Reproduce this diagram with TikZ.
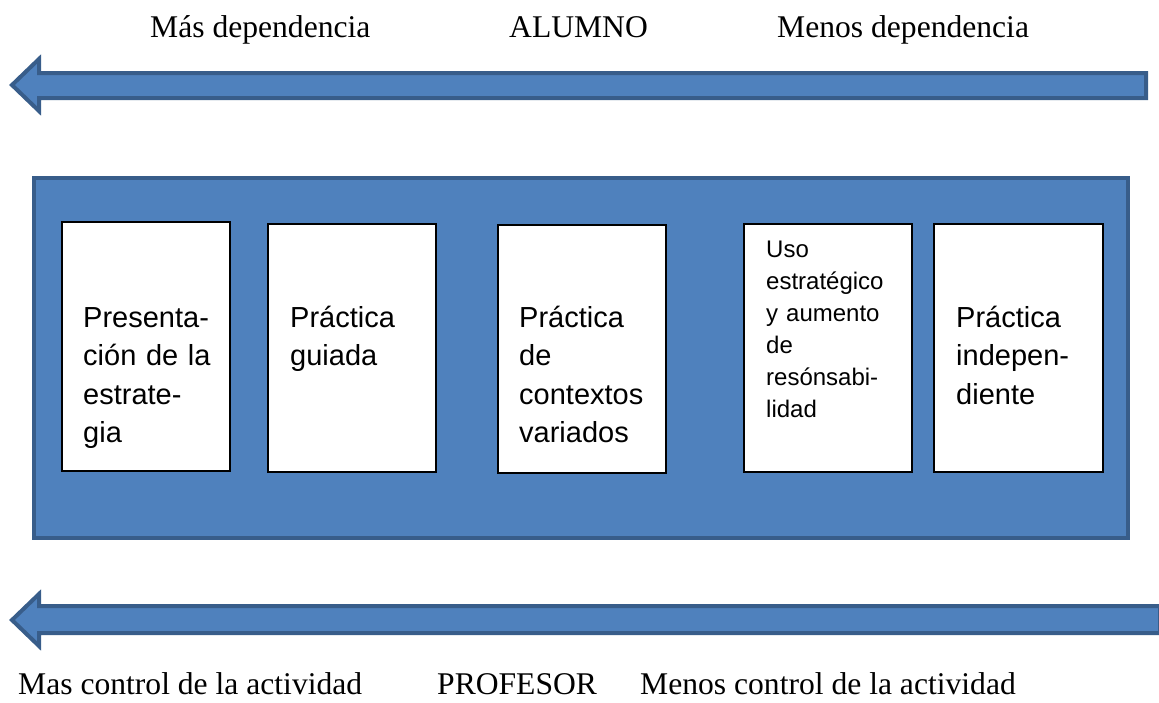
\documentclass[tikz,border=0pt]{standalone}
\usepackage{fontspec}
\setmainfont{Liberation Serif}
\newfontfamily\arialfont{Liberation Sans}
\definecolor{fillblue}{HTML}{4F81BD}
\definecolor{edgeblue}{HTML}{385D8A}
\begin{document}
\begin{tikzpicture}[x=1pt,y=-1pt,
  bigarrow/.style={fill=fillblue,draw=edgeblue,line width=4pt,line join=miter},
  panel/.style={fill=fillblue,draw=edgeblue,line width=4pt},
  card/.style={fill=white,draw=black,line width=1.6pt},
  label/.style={anchor=base west,inner sep=0pt,font=\fontsize{31.6}{38}\selectfont},
  cardtext/.style={anchor=base west,inner sep=0pt,align=left,text width=#1,
    font=\arialfont\fontsize{29}{38.5}\selectfont},
  smalltext/.style={anchor=base west,inner sep=0pt,align=left,text width=140pt,
    font=\arialfont\fontsize{24}{32}\selectfont}]
\useasboundingbox (0,0) rectangle (1159,702);
% top arrow
\draw[bigarrow] (12,85) -- (39,59) -- (39,73) -- (1146,73) -- (1146,98) -- (39,98) -- (39,111) -- cycle;
% bottom arrow
\draw[bigarrow] (12,620) -- (39,594) -- (39,606) -- (1160,606) -- (1160,633) -- (39,633) -- (39,646) -- cycle;
% panel
\draw[panel] (34,178) rectangle (1128,538);
% cards
\draw[card] (62,222) rectangle (230,471);
\draw[card] (268,224) rectangle (436,472);
\draw[card] (498,225) rectangle (666,473);
\draw[card] (744,224) rectangle (912,472);
\draw[card] (934,224) rectangle (1103,472);
% card texts
\node[cardtext=145pt] (t1) at (83,327) {Presenta-\\ción de la\\estrate-\\gia};
\node[cardtext=145pt] (t2) at (290,327) {Práctica\\guiada};
\node[cardtext=145pt] (t3) at (519,327) {Práctica\\de\\contextos\\variados};
\node[smalltext] (t4) at (766,257) {Uso\\estratégico\\y aumento\\de\\resónsabi-\\lidad};
\node[cardtext=145pt] (t5) at (956,327) {Práctica\\indepen-\\diente};
% top labels
\node[label] (l1) at (150,37) {Más dependencia};
\node[label] (l2) at (509,37) {ALUMNO};
\node[label] (l3) at (777,37) {Menos dependencia};
% bottom labels
\node[label] (b1) at (18,694) {Mas control de la actividad};
\node[label] (b2) at (437,694) {PROFESOR};
\node[label] (b3) at (640,694) {Menos control de la actividad};
\end{tikzpicture}
\end{document}
